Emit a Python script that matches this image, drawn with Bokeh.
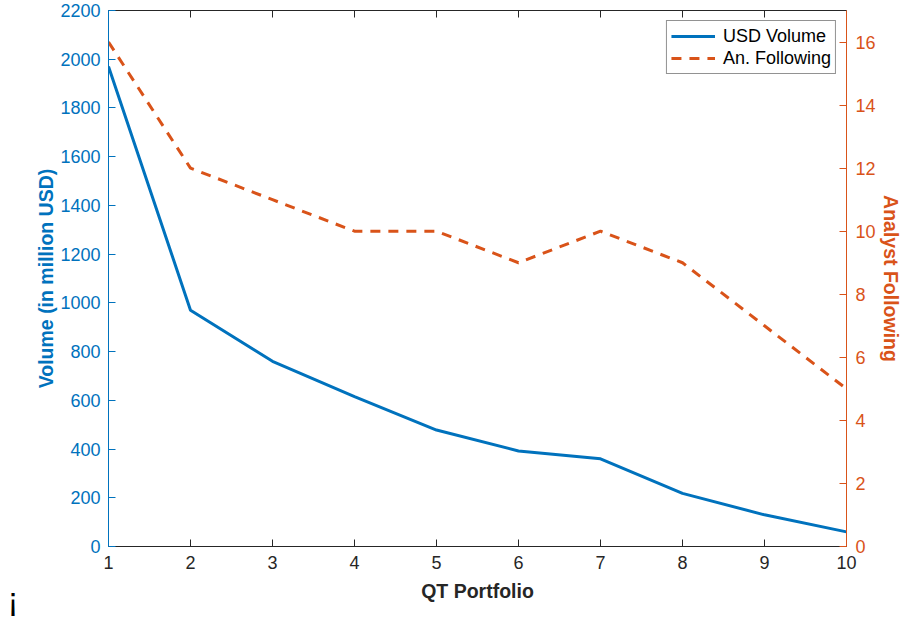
from bokeh.plotting import figure
from bokeh.models import Range1d, LinearAxis, FixedTicker, Legend, LegendItem, Title
from bokeh.embed import file_html
from bokeh.resources import INLINE

portfolio = [1, 2, 3, 4, 5, 6, 7, 8, 9, 10]
usd_volume = [1970, 970, 760, 615, 478, 392, 360, 218, 130, 60]
analyst_following = [16, 12, 11, 10, 10, 9, 10, 9, 7, 5]

left_ticks = list(range(0, 2201, 200))
right_ticks = list(range(0, 17, 2))

BLUE = "#0072BD"
ORANGE = "#D95319"
DARK = "#262626"
FONT = "Liberation Sans"

p = figure(width=904, height=619, output_backend="svg", toolbar_location=None,
           x_range=Range1d(1, 10), y_range=Range1d(0, 2200),
           min_border_left=108, min_border_right=58, min_border_top=10, min_border_bottom=73,
           x_axis_location=None, y_axis_location=None)
p.outline_line_color = None
p.xgrid.visible = False
p.ygrid.visible = False
p.extra_y_ranges = {"right": Range1d(0, 17)}

xa = LinearAxis(ticker=FixedTicker(ticks=portfolio), axis_label="QT Portfolio")
ya = LinearAxis(ticker=FixedTicker(ticks=left_ticks), axis_label="Volume (in million USD)")
ra = LinearAxis(y_range_name="right", ticker=FixedTicker(ticks=right_ticks), axis_label="Analyst Following")
ta = LinearAxis(ticker=FixedTicker(ticks=portfolio))

for ax, col in ((xa, DARK), (ya, BLUE), (ra, ORANGE), (ta, DARK)):
    ax.axis_line_color = col
    ax.major_tick_line_color = col
    ax.minor_tick_line_color = None
    ax.major_tick_in = 7
    ax.major_tick_out = 0
    ax.major_label_text_color = col
    ax.major_label_text_font = FONT
    ax.major_label_text_font_size = "18px"
    ax.axis_label_text_color = col
    ax.axis_label_text_font = FONT
    ax.axis_label_text_font_size = "19.5px"
    ax.axis_label_text_font_style = "bold"
    ax.axis_line_width = 1

xa.major_label_standoff = 9
xa.axis_label_standoff = 8
ya.major_label_standoff = 8
ya.axis_label_standoff = 0
ra.major_label_standoff = 9
ra.axis_label_standoff = 1
ta.major_label_overrides = {t: "" for t in portfolio}
ta.major_label_standoff = 0

p.add_layout(xa, "below")
p.add_layout(ya, "left")
p.add_layout(ra, "right")
p.add_layout(ta, "above")

r1 = p.line(portfolio, usd_volume, line_color=BLUE, line_width=3)
r2 = p.line(portfolio, analyst_following, y_range_name="right", line_color=ORANGE,
            line_width=3, line_dash="10 8")

legend = Legend(items=[LegendItem(label="USD Volume", renderers=[r1]),
                       LegendItem(label="An. Following", renderers=[r2])],
                location="top_right")
legend.border_line_color = DARK
legend.border_line_width = 1
legend.label_text_font = FONT
legend.label_text_font_size = "18px"
legend.label_text_color = "black"
legend.glyph_width = 44
legend.glyph_height = 22
legend.label_height = 22
legend.spacing = 0
legend.padding = 4
legend.margin = 10
legend.label_standoff = 8
p.add_layout(legend, "center")

mark = Title(text="¡", align="left", offset=-101, vertical_align="top", standoff=-47,
             text_font=FONT, text_font_size="33px", text_color="black",
             text_font_style="normal")
p.add_layout(mark, "below")

open("out.html", "w").write(file_html(p, INLINE))
